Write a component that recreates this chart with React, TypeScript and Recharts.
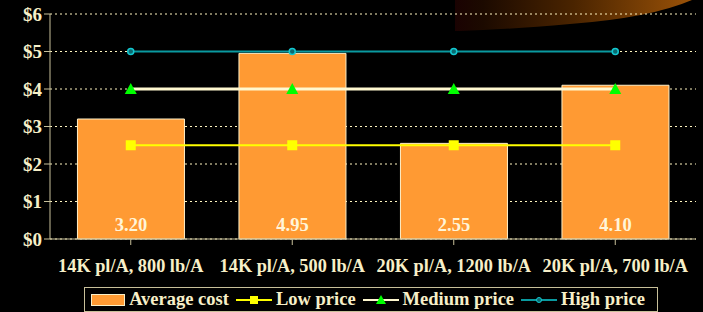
import React from 'react';
import { ComposedChart, Bar, Line, XAxis, YAxis, CartesianGrid, Legend, LabelList } from 'recharts';

const categories = ['14K pl/A, 800 lb/A', '14K pl/A, 500 lb/A', '20K pl/A, 1200 lb/A', '20K pl/A, 700 lb/A'];
const averageCost = [3.2, 4.95, 2.55, 4.1];
const lowPrice = [2.5, 2.5, 2.5, 2.5];
const mediumPrice = [4, 4, 4, 4];
const highPrice = [5, 5, 5, 5];
const yTicks = [0, 1, 2, 3, 4, 5, 6];

const data = categories.map((name, i) => ({
  name,
  avg: averageCost[i],
  low: lowPrice[i],
  med: mediumPrice[i],
  high: highPrice[i],
}));

const TEXT = '#F7EFC8';
const AXIS = '#C8C09A';
const ORANGE = '#FF9A33';
const FONT = '"Liberation Serif", "Times New Roman", serif';

const Square = (props: any) => {
  const { cx, cy } = props;
  return <rect x={cx - 5} y={cy - 5} width={10} height={10} fill="#FFFF00" />;
};
const Triangle = (props: any) => {
  const { cx, cy } = props;
  return <path d={`M${cx},${cy - 6} L${cx + 6},${cy + 5} L${cx - 6},${cy + 5} Z`} fill="#00FF00" />;
};
const Dot = (props: any) => {
  const { cx, cy } = props;
  return <circle cx={cx} cy={cy} r={3} fill="#0A6A70" stroke="#14C8D0" strokeWidth={1.5} />;
};

function LegendBox() {
  const item = (icon: React.ReactNode, label: string) => (
    <span style={{ display: 'inline-flex', alignItems: 'center', marginRight: 7 }}>
      {icon}
      <span style={{ marginLeft: 4 }}>{label}</span>
    </span>
  );
  const lineIcon = (color: string, marker: React.ReactNode) => (
    <svg width={36} height={12}>
      <line x1={0} y1={6} x2={36} y2={6} stroke={color} strokeWidth={2} />
      {marker}
    </svg>
  );
  return (
    <div style={{ display: 'flex', justifyContent: 'center', transform: 'translate(23px, 6px)' }}>
      <div
        style={{
          border: `1px solid ${AXIS}`,
          padding: '0 5px 0 6px',
          height: 23,
          display: 'flex',
          alignItems: 'center',
          color: TEXT,
          fontFamily: FONT,
          fontWeight: 'bold',
          fontSize: 18.5,
          whiteSpace: 'nowrap',
        }}
      >
        {item(<svg width={34} height={12}><rect x={0.5} y={0.5} width={33} height={11} fill={ORANGE} stroke={TEXT} /></svg>, 'Average cost')}
        {item(lineIcon('#FFFF00', <rect x={14} y={2} width={8} height={8} fill="#FFFF00" />), 'Low price')}
        {item(lineIcon('#FFF8D0', <path d="M18,1 L23,10 L13,10 Z" fill="#00FF00" />), 'Medium price')}
        {item(lineIcon('#0A9AA0', <circle cx={18} cy={6} r={2.5} fill="#0A6A70" stroke="#14C8D0" />), 'High price')}
      </div>
    </div>
  );
}

export default function App() {
  return (
    <div style={{ position: 'absolute', left: 0, top: 0, width: 703, height: 312, background: '#000', overflow: 'hidden' }}>
      <svg width={703} height={312} style={{ position: 'absolute', left: 0, top: 0 }}>
        <defs>
          <linearGradient id="swoosh" x1="0" y1="0" x2="1" y2="0">
            <stop offset="0%" stopColor="#1a0202" />
            <stop offset="12%" stopColor="#1c0a00" />
            <stop offset="50%" stopColor="#4a2400" />
            <stop offset="100%" stopColor="#9a5208" />
          </linearGradient>
        </defs>
        <path d="M455,0 L692,0 Q650,18 570,24 Q500,30 460,31 L455,31 Z" fill="url(#swoosh)" />
      </svg>
      <ComposedChart
        width={703}
        height={312}
        data={data}
        margin={{ top: 14, right: 7, left: 0, bottom: 0 }}
        barCategoryGap="17%"
        style={{ position: 'absolute', left: 0, top: 0 }}
      >
        <CartesianGrid vertical={false} stroke="#FFF5C0" strokeDasharray="2 3" />
        <XAxis
          dataKey="name"
          height={42}
          stroke={AXIS}
          tickLine={{ stroke: AXIS }}
          tickMargin={14}
          interval={0}
          tick={{ fill: TEXT, fontSize: 18.3, fontWeight: 'bold', fontFamily: FONT }}
        />
        <YAxis
          width={50}
          domain={[0, 6]}
          ticks={yTicks}
          tickFormatter={(v: number) => `$${v}`}
          stroke={AXIS}
          tickLine={{ stroke: AXIS }}
          tickSize={6}
          tick={{ fill: TEXT, fontSize: 19, fontWeight: 'bold', fontFamily: FONT }}
        />
        <Legend height={31} verticalAlign="bottom" wrapperStyle={{ bottom: 0 }} content={() => <LegendBox />} />
        <Bar dataKey="avg" name="Average cost" fill={ORANGE} stroke="#FFF0C8" strokeWidth={1} isAnimationActive={false}>
          <LabelList
            dataKey="avg"
            position="insideBottom"
            offset={8}
            formatter={(v: any) => Number(v).toFixed(2)}
            style={{ fill: '#FFF5D8', fontSize: 18.5, fontWeight: 'bold', fontFamily: FONT }}
          />
        </Bar>
        <Line dataKey="low" name="Low price" stroke="#FFFF00" strokeWidth={2} dot={<Square />} activeDot={false} isAnimationActive={false} />
        <Line dataKey="med" name="Medium price" stroke="#FFF8D0" strokeWidth={3} dot={<Triangle />} activeDot={false} isAnimationActive={false} />
        <Line dataKey="high" name="High price" stroke="#0A9AA0" strokeWidth={2} dot={<Dot />} activeDot={false} isAnimationActive={false} />
      </ComposedChart>
    </div>
  );
}
